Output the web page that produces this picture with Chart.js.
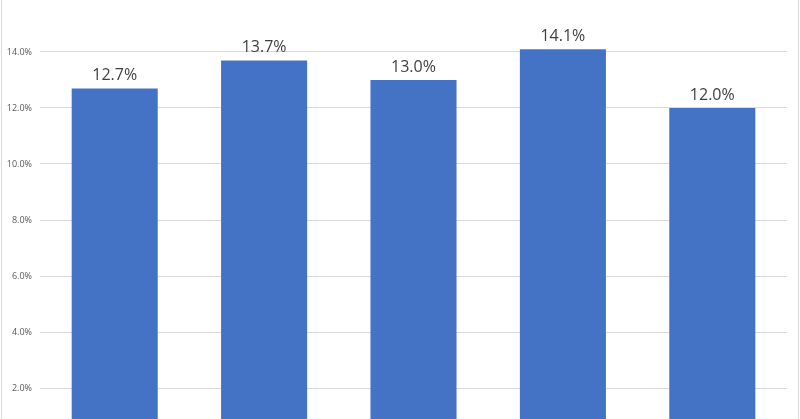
<!DOCTYPE html>
<html><head><meta charset="utf-8">
<script src="https://cdn.jsdelivr.net/npm/chart.js@4"></script>
<style>
html,body{margin:0;padding:0;background:#fff;overflow:hidden}
#wrap{position:relative;width:800px;height:419px}
.vl{position:absolute;top:0;width:1px;height:419px;background:#d9d9d9}
</style></head>
<body>
<div id="wrap"><canvas id="c" width="800" height="419"></canvas>
<div class="vl" style="left:1px"></div><div class="vl" style="left:798px"></div></div>
<script>
const categories = ["A","B","C","D","E"];
const values = [12.7, 13.7, 13.0, 14.1, 12.0];
const tickValues = [2, 4, 6, 8, 10, 12, 14];

const labelPlugin = {
  id: 'lbl',
  afterDatasetsDraw(chart) {
    const ctx = chart.ctx;
    const meta = chart.getDatasetMeta(0);
    ctx.save();
    ctx.font = '16px "Open Sans", "Liberation Sans", sans-serif';
    ctx.fillStyle = '#404040';
    ctx.textAlign = 'center';
    ctx.textBaseline = 'alphabetic';
    meta.data.forEach((b, i) => {
      ctx.fillText(values[i].toFixed(1) + '%', b.x, b.y - 8);
    });
    ctx.restore();
  }
};

new Chart(document.getElementById('c'), {
  type: 'bar',
  data: { labels: categories, datasets: [{ data: values, backgroundColor: '#4472c4', categoryPercentage: 1, barPercentage: 0.576 }] },
  options: {
    responsive: false, animation: false,
    layout: { padding: { left: 0, right: 13, top: 0, bottom: 0 } },
    plugins: { legend: { display: false }, tooltip: { enabled: false } },
    scales: {
      x: { display: false },
      y: {
        min: 0.893, max: 15.857,
        afterFit(s) { s.width = 40; s.paddingTop = 0; s.paddingBottom = 0; },
        afterBuildTicks(s) { s.ticks = tickValues.map(v => ({ value: v })); },
        border: { display: false },
        grid: { color: '#d9d9d9', drawTicks: false, lineWidth: 1 },
        ticks: { padding: 8, color: '#595959', font: { size: 9, family: '"Open Sans", "Liberation Sans", sans-serif' },
          callback: v => Number(v).toFixed(1) + '%' }
      }
    }
  },
  plugins: [labelPlugin]
});
</script>
</body></html>
